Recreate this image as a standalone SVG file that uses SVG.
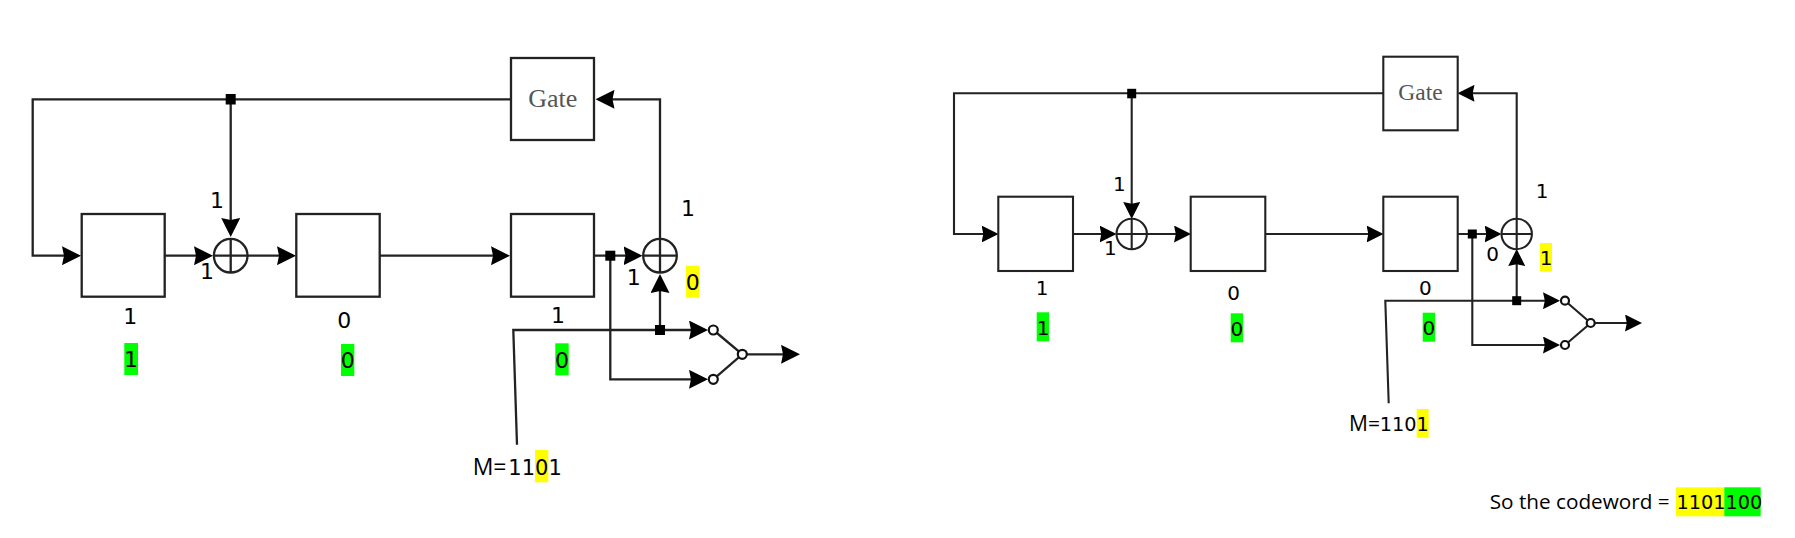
<svg xmlns="http://www.w3.org/2000/svg" width="1795" height="538" viewBox="0 0 1795 538">
<style>
.w{stroke:#222;fill:none;stroke-linejoin:miter}
.l{stroke-width:2.3}
.r{stroke-width:2.1}
.box{fill:#fff;stroke:#222}
.sw{fill:#fff;stroke:#111;stroke-width:2.2}
text{font-family:"DejaVu Sans",sans-serif;fill:#000;text-anchor:middle}
.tl{font-size:22px}
.tr{font-size:20px}
.ml{font-size:21px}
.mr{font-size:19.3px}
.o{font-family:"Open Sans",sans-serif}
.g{font-family:"Liberation Serif",serif;fill:#555}
.st{text-anchor:start}
.gn{fill:#00ff00;stroke:none}
.ye{fill:#ffff00;stroke:none}
.dot{fill:#000}
</style>
<defs>
<marker id="al" viewBox="0 0 19 19" refX="16" refY="9.5" markerWidth="19" markerHeight="19" markerUnits="userSpaceOnUse" orient="auto"><path d="M0,0L19,9.5L0,19L2,9.5z" fill="#000"/></marker>
<marker id="ar" viewBox="0 0 17 17" refX="14" refY="8.5" markerWidth="17" markerHeight="17" markerUnits="userSpaceOnUse" orient="auto"><path d="M0,0L17,8.5L0,17L1.8,8.5z" fill="#000"/></marker>
</defs>
<rect width="1795" height="538" fill="#fff"/>

<g id="connectors">
<g class="w l">
<path d="M511,99.3H32.7V255.7H78" marker-end="url(#al)"/>
<path d="M230.7,99.3V234" marker-end="url(#al)"/>
<path d="M164.7,255.7H210" marker-end="url(#al)"/>
<path d="M247.5,255.7H293" marker-end="url(#al)"/>
<path d="M379.7,255.7H507" marker-end="url(#al)"/>
<path d="M594,255.7H639.5" marker-end="url(#al)"/>
<path d="M660,240V99.3H598.5" marker-end="url(#al)"/>
<path d="M517,444.7L513.3,330H705" marker-end="url(#al)"/>
<path d="M660,330V277" marker-end="url(#al)"/>
<path d="M610.3,255.7V379.3H705" marker-end="url(#al)"/>
<path d="M742.3,354.3H797" marker-end="url(#al)"/>
<path d="M713.3,330L742.3,354.3L713.3,379.3"/>
</g>
<g class="w r">
<path d="M1383.3,93.3H954V234H995.5" marker-end="url(#ar)"/>
<path d="M1131.7,93.3V216" marker-end="url(#ar)"/>
<path d="M1073,234H1113.5" marker-end="url(#ar)"/>
<path d="M1147,234H1188" marker-end="url(#ar)"/>
<path d="M1265.3,234H1380.5" marker-end="url(#ar)"/>
<path d="M1457.7,234H1498.5" marker-end="url(#ar)"/>
<path d="M1516.7,219V93.3H1460.5" marker-end="url(#ar)"/>
<path d="M1388.7,403.3L1385.3,300.7H1557" marker-end="url(#ar)"/>
<path d="M1516.7,300.7V252" marker-end="url(#ar)"/>
<path d="M1472.3,234V345H1557" marker-end="url(#ar)"/>
<path d="M1590.7,323H1639" marker-end="url(#ar)"/>
<path d="M1565,300.7L1590.7,323L1565,345"/>
</g>
</g>

<g id="left-diagram">
<g id="l-gate"><rect class="box" stroke-width="2.3" x="511" y="58" width="83" height="82"/><text class="g" x="552.7" y="106.7" font-size="26">Gate</text></g>
<g id="l-reg1"><rect class="box" stroke-width="2.3" x="81.7" y="214" width="83" height="82.7"/><text class="tl" x="130.3" y="324">1</text><rect class="gn" x="124.3" y="343" width="13.7" height="32"/><text class="tl" x="131" y="367">1</text></g>
<g id="l-reg2"><rect class="box" stroke-width="2.3" x="296.3" y="214" width="83.4" height="82.7"/><text class="tl" x="344.3" y="328">0</text><rect class="gn" x="341" y="344" width="13.3" height="32"/><text class="tl" x="347.7" y="368.3">0</text></g>
<g id="l-reg3"><rect class="box" stroke-width="2.3" x="511" y="214" width="83" height="82.7"/><text class="tl" x="558" y="323.3">1</text><rect class="gn" x="555.3" y="343.3" width="13.4" height="32"/><text class="tl" x="562" y="367.7">0</text></g>
<g id="l-xor1"><circle class="w l" cx="230.7" cy="255.7" r="16.8"/><path class="w l" d="M213.9,255.7H247.5M230.7,238.9V272.5"/><text class="tl" x="217" y="207.7">1</text><text class="tl" x="207" y="278.7">1</text></g>
<g id="l-xor2"><circle class="w l" cx="660" cy="255.7" r="16.8"/><path class="w l" d="M643.2,255.7H676.8M660,238.9V272.5"/><text class="tl" x="688" y="216">1</text><text class="tl" x="633.7" y="285.3">1</text><rect class="ye" x="686" y="265.7" width="13.3" height="32"/><text class="tl" x="692.7" y="290">0</text></g>
<g id="l-junctions"><rect class="dot" x="225.7" y="94" width="10" height="10.5"/><rect class="dot" x="605.3" y="250.7" width="10" height="10"/><rect class="dot" x="655" y="325" width="10" height="10"/></g>
<g id="l-switch"><circle class="sw" cx="713.3" cy="330" r="4.5"/><circle class="sw" cx="713.3" cy="379.3" r="4.5"/><circle class="sw" cx="742.3" cy="354.3" r="4.5"/></g>
<g id="l-message"><rect class="ye" x="535" y="450" width="13.3" height="32.3"/><text class="ml st" x="472.7" y="475"><tspan class="o" font-size="23">M=</tspan><tspan x="508.3">1101</tspan></text></g>
</g>

<g id="right-diagram">
<g id="r-gate"><rect class="box" stroke-width="2.1" x="1383.3" y="56.7" width="74.4" height="73.6"/><text class="g" x="1420.5" y="100" font-size="23.5">Gate</text></g>
<g id="r-reg1"><rect class="box" stroke-width="2.1" x="998.3" y="196.7" width="74.7" height="74.3"/><text class="tr" x="1042" y="295.3">1</text><rect class="gn" x="1036.7" y="312.3" width="12.3" height="29"/><text class="tr" x="1043" y="335">1</text></g>
<g id="r-reg2"><rect class="box" stroke-width="2.1" x="1190.7" y="196.7" width="74.6" height="74.3"/><text class="tr" x="1233.7" y="299.7">0</text><rect class="gn" x="1230.7" y="313.3" width="12.3" height="29"/><text class="tr" x="1236.8" y="336">0</text></g>
<g id="r-reg3"><rect class="box" stroke-width="2.1" x="1383.3" y="196.7" width="74.4" height="74.3"/><text class="tr" x="1425.3" y="295.3">0</text><rect class="gn" x="1422.7" y="312.7" width="12.3" height="29"/><text class="tr" x="1428.8" y="335">0</text></g>
<g id="r-xor1"><circle class="w r" cx="1131.7" cy="234" r="15.2"/><path class="w r" d="M1116.5,234H1146.9M1131.7,218.8V249.2"/><text class="tr" x="1119.3" y="191">1</text><text class="tr" x="1110.3" y="255">1</text></g>
<g id="r-xor2"><circle class="w r" cx="1516.7" cy="234" r="15.2"/><path class="w r" d="M1501.5,234H1531.9M1516.7,218.8V249.2"/><text class="tr" x="1542" y="198.3">1</text><text class="tr" x="1492.7" y="260.7">0</text><rect class="ye" x="1540" y="243" width="12" height="28.7"/><text class="tr" x="1546" y="265">1</text></g>
<g id="r-junctions"><rect class="dot" x="1127.2" y="88.8" width="9" height="9.5"/><rect class="dot" x="1467.8" y="229.5" width="9" height="9"/><rect class="dot" x="1512.2" y="296.2" width="9" height="9"/></g>
<g id="r-switch"><circle class="sw" cx="1565" cy="300.7" r="4"/><circle class="sw" cx="1565" cy="345" r="4"/><circle class="sw" cx="1590.7" cy="323" r="4"/></g>
<g id="r-message"><rect class="ye" x="1416.7" y="409" width="12" height="28.7"/><text class="mr st" x="1349" y="431"><tspan class="o" font-size="21">M=</tspan><tspan x="1379.8">1101</tspan></text></g>
</g>

<g id="codeword"><rect class="ye" x="1676" y="487.3" width="48.3" height="29"/><rect class="gn" x="1724.3" y="487.3" width="36.4" height="29"/><text class="mr st o" x="1489.7" y="509.3" font-size="21" textLength="180" lengthAdjust="spacingAndGlyphs">So the codeword =</text><text class="mr st" x="1676.5" y="509.3">1101100</text></g>
</svg>
